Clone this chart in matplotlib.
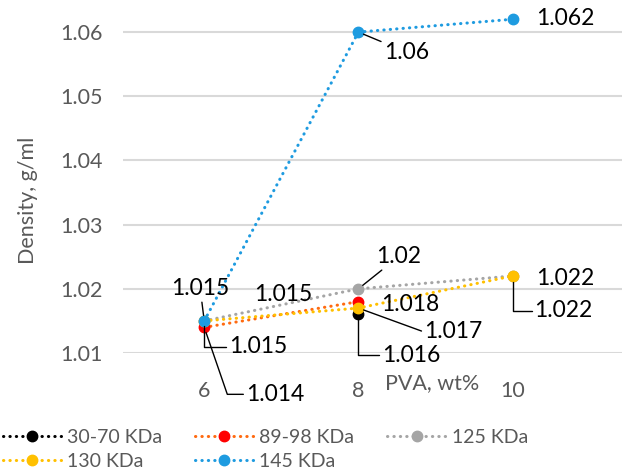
import numpy as np
import matplotlib.pyplot as plt
from matplotlib.lines import Line2D

plt.rcParams['font.family'] = ['Lato', 'DejaVu Sans']

pva = ['6', '8', '10']
series_names = ['30-70 KDa', '89-98 KDa', '125 KDa', '130 KDa', '145 KDa']
d_30_70 = [np.nan, 1.016, np.nan]
d_89_98 = [1.014, 1.018, np.nan]
d_125 = [1.015, 1.020, 1.022]
d_130 = [1.015, 1.017, 1.022]
d_145 = [1.015, 1.060, 1.062]

data = [d_30_70, d_89_98, d_125, d_130, d_145]
line_colors = ['#000000', '#FF6A10', '#A5A5A5', '#FFC000', '#1E9BE0']
marker_colors = ['#000000', '#FF0000', '#A5A5A5', '#FFC000', '#1E9BE0']
dots = (0, (0.1, 2.0))

# label offsets (pixels) and leader style: None, 'line' or an angle at the point
labels = {
    (4, 0): (-4, 32, 'line'), (2, 0): (79, 26, None), (3, 0): (54, -26, 90),
    (1, 0): (71, -67, -71),
    (2, 1): (40, 32, 'line'), (1, 1): (52, -3, None), (3, 1): (95, -23, -20),
    (0, 1): (53, -41, 90), (4, 1): (48, -20, 'line'),
    (4, 2): (53, 1, None), (2, 2): (53, -3, None), (3, 2): (51, -35, 90),
}

fig = plt.figure(figsize=(6.22, 4.73), dpi=100)
ax = fig.add_axes([0.198, 0.2537, 0.802, 0.7463])
x = np.arange(len(pva))

for i, vals in enumerate(data):
    ax.plot(x, vals, linestyle=dots, linewidth=2.2, color=line_colors[i],
            dash_capstyle='round', marker='o', markersize=7.5,
            markerfacecolor=marker_colors[i], markeredgecolor=marker_colors[i], zorder=3 + i)

for (i, j), (dx, dy, lead) in labels.items():
    v = data[i][j]
    props = None
    if lead == 'line':
        props = dict(arrowstyle='-', color='black', lw=1, shrinkA=0, shrinkB=4)
    elif lead is not None:
        props = dict(arrowstyle='-', color='black', lw=1, shrinkA=0, shrinkB=4,
                     connectionstyle=f'angle,angleA=0,angleB={lead},rad=0')
    ax.annotate(f'{v:g}', (x[j], v), xytext=(dx, dy), textcoords='offset pixels',
                ha='center', va='center', fontsize=16.5, color='black',
                arrowprops=props, zorder=10)

ax.set_xlim(-0.526, 2.71)
ax.set_ylim(1.01, 1.065)
ax.set_yticks([1.01, 1.02, 1.03, 1.04, 1.05, 1.06])
ax.set_yticklabels(['1.01', '1.02', '1.03', '1.04', '1.05', '1.06'])
ax.set_xticks(x)
ax.set_xticklabels(pva)
ax.tick_params(axis='both', length=0, labelsize=15.5, labelcolor='#595959')
ax.tick_params(axis='x', pad=20)
ax.tick_params(axis='y', pad=15)
ax.grid(axis='y', color='#D9D9D9', linewidth=1.5)
ax.set_axisbelow(True)
for s in ax.spines.values():
    s.set_visible(False)

ax.set_ylabel('Density, g/ml', fontsize=15.5, color='#595959')
ax.yaxis.set_label_coords(-0.17, 0.433)
fig.text(0.695, 0.19, 'PVA, wt%', fontsize=15.5, color='#595959', ha='center', va='center')

handles = [Line2D([0], [0], linestyle=dots, linewidth=2.2, color=line_colors[i],
                  marker='o', markersize=7.5, markerfacecolor=marker_colors[i],
                  markeredgecolor=marker_colors[i], dash_capstyle='round')
           for i in range(len(series_names))]
order = [0, 3, 1, 4, 2]
fig.legend([handles[k] for k in order], [series_names[k] for k in order],
           loc='lower left', bbox_to_anchor=(0.0, 0.0), ncol=3, frameon=False,
           fontsize=14, labelcolor='#595959', handlelength=3.0, handletextpad=0.3,
           columnspacing=1.7, labelspacing=0.35, borderaxespad=0.05, borderpad=0.1)

fig.savefig('out.png', dpi=100)
